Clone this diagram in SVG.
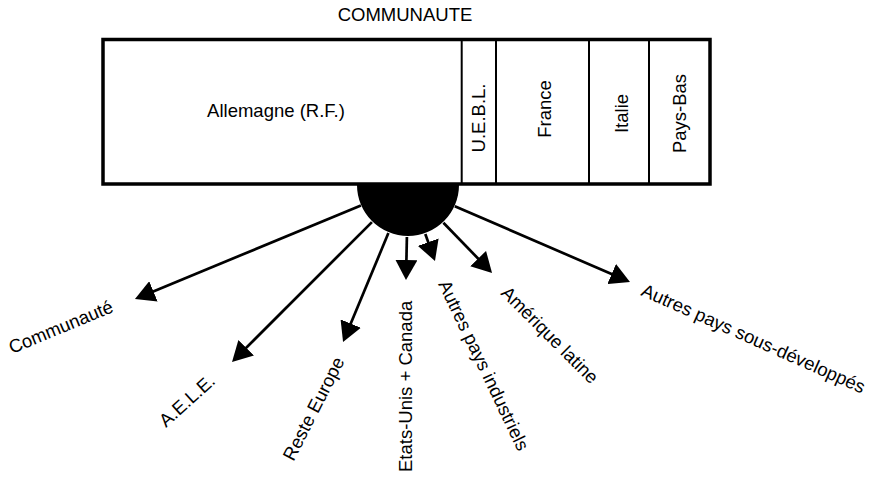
<svg xmlns="http://www.w3.org/2000/svg" width="885" height="478" viewBox="0 0 885 478">
<style>
text{font-family:"Liberation Sans",Arial,sans-serif;font-size:18.5px;fill:#000}
.box{fill:#fff;stroke:#000;stroke-width:3.5}
.div{stroke:#000;stroke-width:2}
.conn{stroke:#000;stroke-width:2.7;fill:none;marker-end:url(#ah)}
</style>
<defs>
<marker id="ah" markerUnits="userSpaceOnUse" markerWidth="20" markerHeight="22" viewBox="0 0 20 22" refX="10" refY="11" orient="auto">
<path d="M0,0 L20,11 L0,22 Z" fill="#000"/>
</marker>
</defs>
<rect width="885" height="478" fill="#fff"/>
<text x="405" y="21" text-anchor="middle">COMMUNAUTE</text>
<g id="communaute-box">
<rect class="box" x="103" y="39.5" width="607" height="144.5"/>
<line class="div" x1="461.7" y1="39.5" x2="461.7" y2="184"/>
<line class="div" x1="496" y1="39.5" x2="496" y2="184"/>
<line class="div" x1="589" y1="39.5" x2="589" y2="184"/>
<line class="div" x1="649" y1="39.5" x2="649" y2="184"/>
</g>
<g id="allemagne"><text x="276" y="117" text-anchor="middle">Allemagne (R.F.)</text></g>
<g id="uebl"><text transform="translate(485,118) rotate(-90)" text-anchor="middle">U.E.B.L.</text></g>
<g id="france"><text transform="translate(551,109) rotate(-90)" text-anchor="middle">France</text></g>
<g id="italie"><text transform="translate(628,113.5) rotate(-90)" text-anchor="middle">Italie</text></g>
<g id="paysbas"><text transform="translate(686,113.5) rotate(-90)" text-anchor="middle">Pays-Bas</text></g>
<g id="connectors">
<line class="conn" x1="360.9" y1="205.5" x2="144.2" y2="295.2"/>
<line class="conn" x1="371.9" y1="222.1" x2="239.1" y2="354.9"/>
<line class="conn" x1="388.4" y1="233.1" x2="346.9" y2="332.8"/>
<line class="conn" x1="406.9" y1="237" x2="406.2" y2="270"/>
<line class="conn" x1="425.3" y1="234" x2="431.6" y2="251.6"/>
<line class="conn" x1="443.4" y1="222.7" x2="485.1" y2="265.8"/>
<line class="conn" x1="454.8" y1="206.2" x2="620.8" y2="278"/>
</g>
<g id="hub"><path d="M357,185 A51,51 0 0 0 459,185 Z" fill="#000"/></g>
<g id="dest-communaute"><text transform="translate(12,354) rotate(-22.5)">Communauté</text></g>
<g id="dest-aele"><text transform="translate(166,428) rotate(-42)">A.E.L.E.</text></g>
<g id="dest-reste-europe"><text transform="translate(293.6,462) rotate(-63)">Reste Europe</text></g>
<g id="dest-etats-unis"><text transform="translate(412,472) rotate(-90)">Etats-Unis + Canada</text></g>
<g id="dest-autres-industriels"><text transform="translate(438,284) rotate(64.5)">Autres pays industriels</text></g>
<g id="dest-amerique-latine"><text transform="translate(500,294) rotate(45)">Amérique latine</text></g>
<g id="dest-sous-developpes"><text transform="translate(640,295) rotate(24)">Autres pays sous-développés</text></g>
</svg>
